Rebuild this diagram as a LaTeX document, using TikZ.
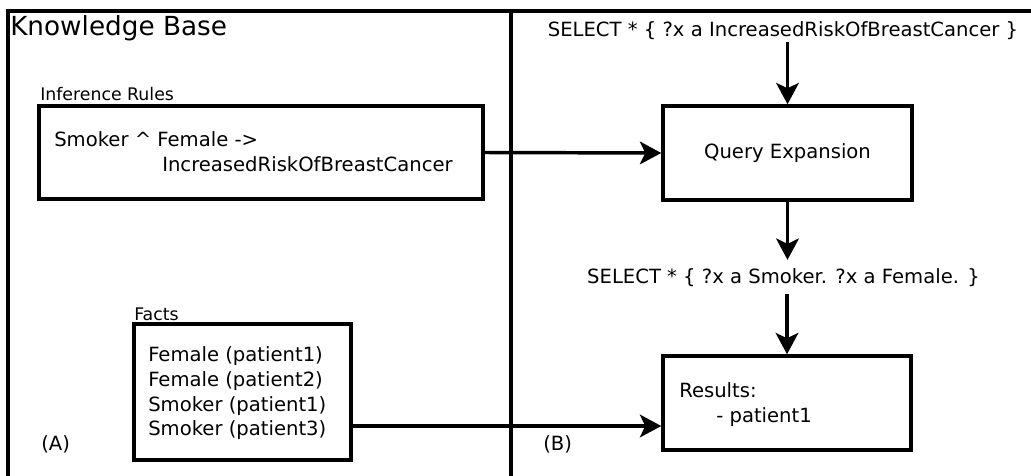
\documentclass[tikz,border=0pt]{standalone}
\usepackage{fontspec}
\setmainfont{DejaVu Sans}
\usetikzlibrary{arrows.meta,calc}
\newcommand\mainsize{\fontsize{14.7pt}{18pt}\selectfont}
\newcommand\smallsize{\fontsize{13pt}{15.5pt}\selectfont}
\newcommand\titlesize{\fontsize{19.7pt}{23pt}\selectfont}
\begin{document}
\begin{tikzpicture}[x=0.75pt,y=-0.75pt,
  frame/.style={line width=2.6pt},
  box/.style={draw,line width=2.6pt,rectangle,inner sep=0pt},
  txt/.style={inner sep=0pt,font=\mainsize,anchor=base west},
  lbl/.style={inner sep=0pt,font=\smallsize,anchor=base west},
  query/.style={inner xsep=0pt,inner ysep=6pt,font=\mainsize,anchor=base},
  arr/.style={line width=2.6pt,-{Stealth[length=16pt,width=17pt,inset=4pt]}}]
\useasboundingbox (0,0) rectangle (1031,475);
\clip (0,0) rectangle (1031,475);

% panel frame: knowledge base on the left, query processing on the right
\draw[frame] (8,490) -- (8,11) -- (1045,11);
\draw[frame] (511,11) -- (511,490);
\node[inner sep=0pt,font=\titlesize,anchor=base west] (kbtitle) at (10,35) {Knowledge Base};
\node[txt] (labA) at (41,450) {(A)};
\node[txt] (labB) at (543,450) {(B)};

% inference rules
\node[box,minimum width=333pt,minimum height=69.75pt] (rules) at (261,152.5) {};
\node[lbl] (ruleslbl) at (40,100) {Inference Rules};
\node[txt] (rule1) at (54,146) {Smoker \textasciicircum\ Female ->};
\node[txt] (rule2) at (162,171) {IncreasedRiskOfBreastCancer};

% facts
\node[box,minimum width=162.75pt,minimum height=102pt] (facts) at (242.5,392) {};
\node[lbl] (factslbl) at (134,320) {Facts};
\node[txt] (fact1) at (148,361) {Female (patient1)};
\node[txt] (fact2) at (148,386) {Female (patient2)};
\node[txt] (fact3) at (148,411) {Smoker (patient1)};
\node[txt] (fact4) at (148,435) {Smoker (patient3)};

% query pipeline
\node[query,inner ysep=2pt] (q1) at (783,36) {SELECT * \{ ?x a IncreasedRiskOfBreastCancer \}};
\node[box,minimum width=186.75pt,minimum height=70.5pt,font=\mainsize] (expand) at (787.5,153) {Query Expansion};
\node[query] (q2) at (783.5,283) {SELECT * \{ ?x a Smoker. ?x a Female. \}};
\node[box,minimum width=186pt,minimum height=70.5pt] (results) at (787,403) {};
\node[txt] (res1) at (679,397) {Results:};
\node[txt] (res2) at (716,422) {- patient1};

% connectors
\draw[arr] (expand.north |- q1.south) -- (expand.north);
\draw[arr] (rules.east) -- (expand.west);
\draw[arr] (expand.south) -- (expand.south |- q2.north);
\draw[arr] (results.north |- q2.south) -- (results.north);
\draw[arr] ([yshift=-25.5pt]facts.east) -- ([yshift=-25.5pt]facts.east -| results.west);
\end{tikzpicture}
\end{document}
